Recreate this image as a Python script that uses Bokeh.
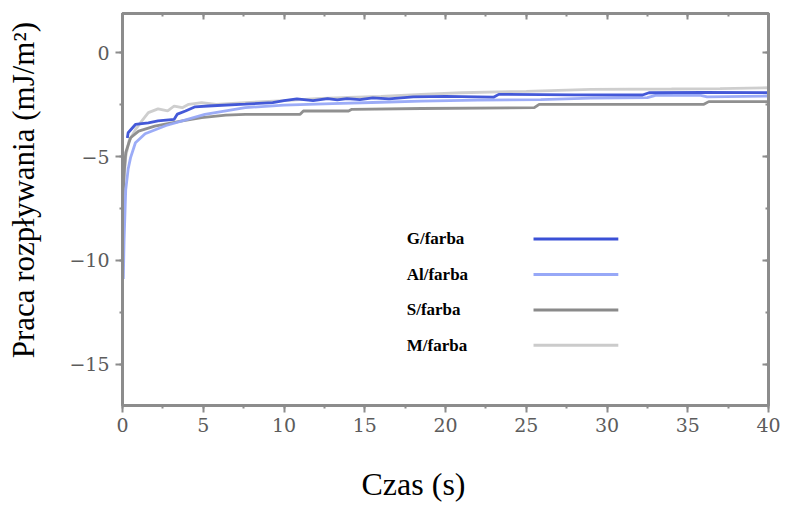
from bokeh.plotting import figure
from bokeh.models import Range1d, SingleIntervalTicker, ColumnDataSource, LinearAxis, CustomJSTickFormatter
from bokeh.core.properties import value
from bokeh.embed import file_html
from bokeh.resources import INLINE

# ---- data ----
series_names = ["G/farba", "Al/farba", "S/farba", "M/farba"]
series_colors = ["#3a50d6", "#97a8f7", "#8a8a8a", "#cbcbcb"]

g_x = [0.3, 0.35, 0.8, 1.6, 2.2, 3.2, 3.4, 3.9, 4.5, 5.3, 7.6, 9.3, 10.0, 10.8, 11.8, 12.7, 13.3, 13.9, 14.7,
       15.5, 16.5, 18.0, 20.0, 23.0, 23.3, 28.0, 32.2, 32.6, 36.0, 40.0]
g_y = [-4.1, -3.85, -3.45, -3.37, -3.28, -3.2, -2.95, -2.8, -2.6, -2.56, -2.47, -2.4, -2.3, -2.22, -2.3, -2.2,
       -2.27, -2.2, -2.25, -2.17, -2.22, -2.12, -2.1, -2.13, -2.0, -2.02, -2.03, -1.92, -1.9, -1.92]

al_x = [0.05, 0.1, 0.2, 0.35, 0.5, 0.8, 1.4, 2.7, 3.7, 5.1, 7.6, 10.0, 13.0, 16.0, 18.5, 22.0, 25.9, 29.0,
        32.5, 33.0, 35.8, 36.2, 40.0]
al_y = [-10.9, -9.0, -6.6, -5.6, -5.05, -4.33, -3.9, -3.5, -3.28, -2.96, -2.64, -2.52, -2.45, -2.38, -2.32,
        -2.28, -2.25, -2.18, -2.16, -2.05, -2.05, -2.12, -2.08]

s_x = [0.02, 0.1, 0.2, 0.5, 1.0, 2.0, 3.7, 4.9, 6.4, 7.6, 11.0, 11.2, 14.0, 14.2, 18.5, 25.5, 25.8, 36.0,
       36.3, 40.0]
s_y = [-7.2, -5.8, -4.8, -4.09, -3.77, -3.53, -3.28, -3.12, -3.0, -2.96, -2.96, -2.8, -2.8, -2.72, -2.68,
       -2.64, -2.48, -2.48, -2.35, -2.35]

m_x = [0.05, 0.2, 0.4, 0.8, 1.2, 1.6, 2.2, 2.8, 3.2, 3.7, 4.1, 4.9, 5.8, 7.6, 10.0, 12.0, 14.0, 16.0, 18.5,
       21.0, 25.0, 29.0, 34.0, 37.0, 40.0]
m_y = [-6.5, -5.0, -4.25, -3.7, -3.28, -2.88, -2.7, -2.8, -2.56, -2.64, -2.48, -2.4, -2.48, -2.4, -2.3, -2.2,
       -2.15, -2.1, -2.0, -1.92, -1.85, -1.76, -1.74, -1.72, -1.68]

x_ticks_interval = 5
y_ticks_interval = 5
x_title = "Czas (s)"
y_title = "Praca rozpływania (mJ/m²)"

# ---- layout constants ----
legend_text_x = 17.6
legend_line_x0 = 25.45
legend_line_x1 = 30.7
legend_row_y = [-8.97, -10.68, -12.39, -14.1]
NBSP = "\u00a0"

p = figure(width=786, height=507, x_range=Range1d(0, 40), y_range=Range1d(-17, 1.9),
           output_backend="svg", toolbar_location=None,
           min_border_left=122, min_border_right=18, min_border_top=13, min_border_bottom=102,
           background_fill_color="white", border_fill_color="white")
p.grid.visible = False
p.outline_line_color = "#8c8c8c"
p.outline_line_width = 3

xa = p.xaxis[0]
ya = p.yaxis[0]

all_series = [(g_x, g_y), (al_x, al_y), (s_x, s_y), (m_x, m_y)]
for idx in [3, 2, 1, 0]:
    xs, ys = all_series[idx]
    p.line(xs, ys, line_color=series_colors[idx], line_width=2.8, line_alpha=0.95)

# legend: label first, then line sample
leg_src = ColumnDataSource(dict(x=[legend_text_x] * 4, y=legend_row_y, t=series_names,
                                x0=[legend_line_x0] * 4, x1=[legend_line_x1] * 4, c=series_colors))
p.text(x="x", y="y", text="t", source=leg_src, text_font=value("Liberation Serif"),
       text_font_style="bold", text_font_size="17px", text_color="black", text_baseline="middle")
p.segment(x0="x0", y0="y", x1="x1", y1="y", source=leg_src, line_color="c", line_width=3)

axis_color = "#8c8c8c"
tick_font = "DejaVu Serif"

# mirrored tick-only axes on top and right
top_ax = LinearAxis()
right_ax = LinearAxis()
p.add_layout(top_ax, "above")
p.add_layout(right_ax, "right")

for ax in (xa, ya, top_ax, right_ax):
    ax.axis_line_color = axis_color
    ax.axis_line_width = 3
    ax.major_tick_line_color = axis_color
    ax.major_tick_line_width = 2
    ax.minor_tick_line_color = axis_color
    ax.minor_tick_line_width = 2
    ax.major_tick_in = 0
    ax.major_tick_out = 7
    ax.minor_tick_in = 0
    ax.minor_tick_out = 3
    ax.major_label_text_font = tick_font
    ax.major_label_text_font_size = "19px"
    ax.major_label_text_color = "#5c5c5c"

for ax in (xa, top_ax):
    ax.ticker = SingleIntervalTicker(interval=x_ticks_interval, num_minor_ticks=2)
for ax in (ya, right_ax):
    ax.ticker = SingleIntervalTicker(interval=y_ticks_interval, num_minor_ticks=2)

for ax in (top_ax, right_ax):
    ax.major_tick_out = 0
    ax.minor_tick_out = 0
    ax.major_tick_in = 6
    ax.minor_tick_in = 3
    ax.major_label_standoff = 0
    ax.major_label_text_font_size = "0px"
    ax.formatter = CustomJSTickFormatter(code="return ''")

xa.major_label_standoff = 5
xa.axis_label = x_title + NBSP * 8
xa.axis_label_text_font = "Liberation Serif"
xa.axis_label_text_font_size = "32px"
xa.axis_label_text_font_style = "normal"
xa.axis_label_text_color = "black"
xa.axis_label_standoff = 31

ya.major_label_standoff = 6
ya.axis_label = NBSP * 5 + y_title
ya.axis_label_text_font = "Liberation Serif"
ya.axis_label_text_font_size = "31px"
ya.axis_label_text_font_style = "normal"
ya.axis_label_text_color = "black"
ya.axis_label_standoff = 25

open("out.html", "w").write(file_html(p, INLINE))
